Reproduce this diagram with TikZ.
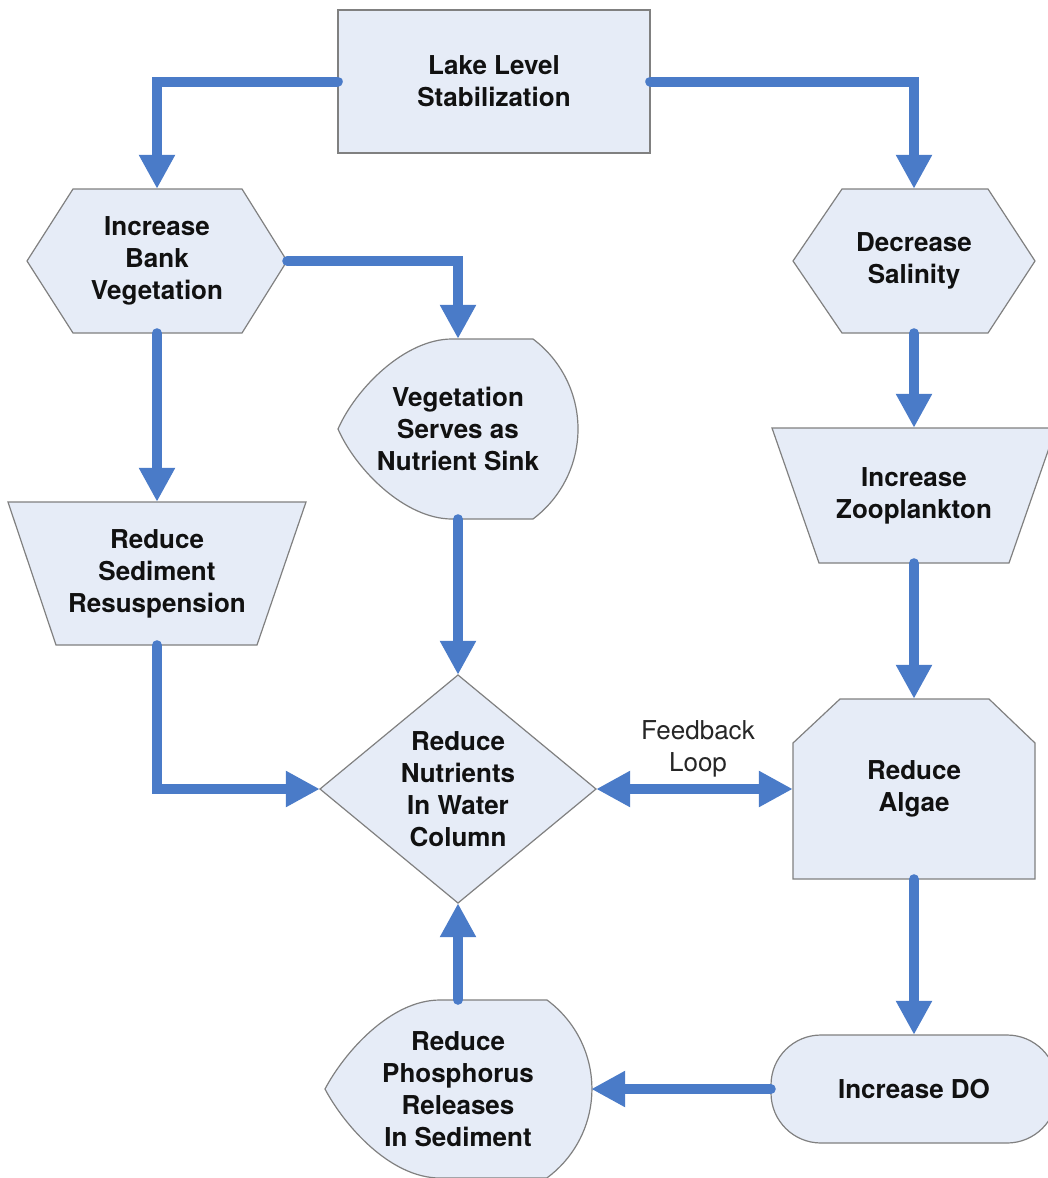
\documentclass[tikz,border=0pt]{standalone}
\usepackage{fontspec}
\setmainfont{TeX Gyre Heros}
\usetikzlibrary{arrows.meta}
\definecolor{fillc}{HTML}{E6ECF7}
\definecolor{edgec}{HTML}{808080}
\definecolor{arrc}{HTML}{4A7BC8}
\definecolor{txtc}{HTML}{111111}
\definecolor{fbc}{HTML}{262626}
\begin{document}
\begin{tikzpicture}[x=1pt,y=-1pt,
  shp/.style={fill=fillc,draw=edgec,line width=1.2pt,line join=miter},
  lbl/.style={inner sep=0pt,align=center,text=txtc,font=\fontsize{26}{32}\selectfont\bfseries},
  conn/.style={draw=arrc,line width=10pt,line cap=round,-{Triangle[width=34pt,length=34pt]}},
  conntwo/.style={draw=arrc,line width=10pt,{Triangle[width=34pt,length=34pt]}-{Triangle[width=34pt,length=34pt]}},
  fb/.style={inner sep=0pt,align=center,text=fbc,font=\fontsize{26}{32}\selectfont}
]
\useasboundingbox[fill=white] (0,0) rectangle (1047,1178);

% shapes
\path[shp] (338,10) rectangle (650,153);
\path[shp] (27,261) -- (73,189) -- (242,189) -- (287,261) -- (242,333) -- (73,333) -- cycle;
\path[shp] (793,261) -- (842,189) -- (988,189) -- (1035,261) -- (988,333) -- (842,333) -- cycle;
\path[shp] (452,339) -- (533,339) arc[start angle=-53.13,end angle=53.13,radius=112.5]
  -- (452,519) .. controls (405,519) and (356,470) .. (338,429)
  .. controls (356,388) and (405,339) .. (452,339) -- cycle;
\path[shp] (8,502) -- (306,502) -- (257,645) -- (56,645) -- cycle;
\path[shp] (772,428) -- (1056,428) -- (1009,563) -- (819,563) -- cycle;
\path[shp] (320,789) -- (458,675) -- (596,789) -- (458,903) -- cycle;
\path[shp] (793,743) -- (840,699) -- (989,699) -- (1035,743) -- (1035,879) -- (793,879) -- cycle;
\path[shp,rounded corners=50pt] (771,1035) rectangle (1057,1143);
\path[shp] (440,1000) -- (547,1000) arc[start angle=-53.6,end angle=53.6,radius=110.5]
  -- (440,1178) .. controls (390,1178) and (344,1125) .. (325,1089)
  .. controls (344,1053) and (390,1000) .. (440,1000) -- cycle;

% nodes
\node[lbl,minimum width=312pt,minimum height=143pt] (lake) at (494,81.5) {Lake Level\\Stabilization};
\node[lbl,minimum width=260pt,minimum height=144pt] (bank) at (157,261) {Increase\\Bank\\Vegetation};
\node[lbl,minimum width=242pt,minimum height=144pt] (sal) at (914,261) {Decrease\\Salinity};
\node[lbl,minimum width=240pt,minimum height=180pt] (veg) at (458,429) {Vegetation\\Serves as\\Nutrient Sink};
\node[lbl,minimum width=298pt,minimum height=143pt] (sed) at (157,573.5) {Reduce\\Sediment\\Resuspension};
\node[lbl,minimum width=284pt,minimum height=135pt] (zoo) at (914,495.5) {Increase\\Zooplankton};
\node[lbl,minimum width=276pt,minimum height=228pt] (dia) at (458,789) {Reduce\\Nutrients\\In Water\\Column};
\node[lbl,minimum width=242pt,minimum height=180pt] (alg) at (914,789) {Reduce\\Algae};
\node[lbl,minimum width=286pt,minimum height=108pt] (do) at (914,1089) {Increase DO};
\node[lbl,minimum width=266pt,minimum height=178pt] (phos) at (458,1089) {Reduce\\Phosphorus\\Releases\\In Sediment};
\node[fb] (fbl) at (698,749) {Feedback\\Loop};

% connectors
\draw[conn] (lake.west) -| (bank.north);
\draw[conn] (lake.east) -| (sal.north);
\draw[conn] (bank.east) -| (veg.north);
\draw[conn] (bank.south) -- (sed.north);
\draw[conn] (sal.south) -- (zoo.north);
\draw[conn] (veg.south) -- (dia.north);
\draw[conn] (sed.south) |- (dia.west);
\draw[conn] (zoo.south) -- (alg.north);
\draw[conntwo] (dia.east) -- (alg.west);
\draw[conn] (alg.south) -- (do.north);
\draw[conn] (do.west) -- (phos.east);
\draw[conn] (phos.north) -- (dia.south);
\end{tikzpicture}
\end{document}
